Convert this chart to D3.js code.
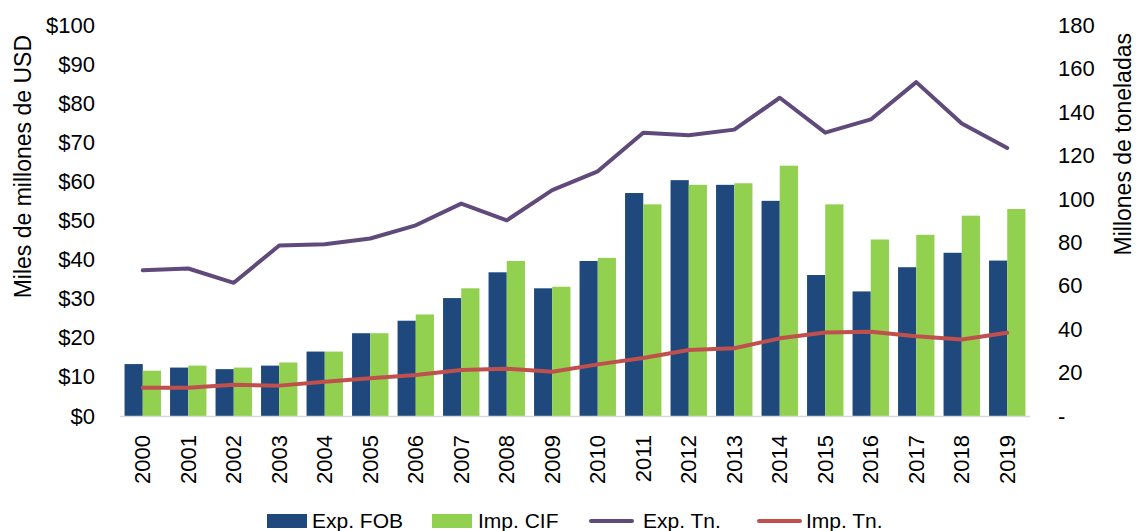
<!DOCTYPE html>
<html>
<head>
<meta charset="utf-8">
<script src="https://cdn.jsdelivr.net/npm/d3@7"></script>
<style>
  html, body { margin: 0; padding: 0; background: #fff; }
  svg { display: block; font-family: "Liberation Sans", Arial, sans-serif; }
</style>
</head>
<body>
<svg id="chart" width="1138" height="531"></svg>
<script>
const years = ["2000","2001","2002","2003","2004","2005","2006","2007","2008","2009",
               "2010","2011","2012","2013","2014","2015","2016","2017","2018","2019"];
const expFOB = [13.3, 12.4, 12.0, 12.9, 16.5, 21.2, 24.4, 30.2, 36.8, 32.7,
                39.7, 57.1, 60.4, 59.2, 55.1, 36.1, 31.9, 38.1, 41.8, 39.8];
const impCIF = [11.6, 12.9, 12.4, 13.7, 16.5, 21.2, 26.0, 32.7, 39.7, 33.1,
                40.5, 54.2, 59.2, 59.6, 64.1, 54.2, 45.2, 46.4, 51.3, 53.0];
const expTn  = [67.2, 68.0, 61.4, 78.6, 79.2, 81.8, 87.9, 97.9, 90.2, 104.1,
                112.8, 130.6, 129.4, 132.0, 146.7, 130.6, 136.7, 153.9, 134.8, 123.5];
const impTn  = [13.0, 13.0, 14.4, 14.0, 15.8, 17.4, 18.9, 21.2, 21.8, 20.4,
                23.8, 26.7, 30.4, 31.2, 35.8, 38.5, 38.8, 36.8, 35.3, 38.4];
const leftTicks  = [0, 10, 20, 30, 40, 50, 60, 70, 80, 90, 100];
const rightTicks = [0, 20, 40, 60, 80, 100, 120, 140, 160, 180];
const seriesNames = ["Exp. FOB", "Imp. CIF", "Exp. Tn.", "Imp. Tn."];
const leftTitle = "Miles de millones de USD";
const rightTitle = "Millones de toneladas";

const colors = { exp: "#1F497D", imp: "#92D050", expTn: "#604A7B", impTn: "#C0504D" };

const svg = d3.select("#chart");
const tickSize = 22, titleSize = 23, legendSize = 21;
const FONT = "Liberation Sans, Arial, sans-serif";

const x = d3.scaleBand().domain(years).range([120, 1030]).paddingInner(0.2).paddingOuter(0.1);
const x1 = d3.scaleBand().domain(["exp", "imp"]).range([0, x.bandwidth()]);
const yL = d3.scaleLinear().domain([0, 100]).range([416, 25.5]);
const yR = d3.scaleLinear().domain([0, 180]).range([416, 25.5]);

// bars
const data = years.map((y, i) => ({ year: y, exp: expFOB[i], imp: impCIF[i], expTn: expTn[i], impTn: impTn[i] }));
const groups = svg.append("g").selectAll("g").data(data).join("g")
  .attr("transform", d => `translate(${x(d.year)},0)`);
groups.selectAll("rect").data(d => ["exp", "imp"].map(k => ({ key: k, v: d[k] }))).join("rect")
  .attr("x", d => x1(d.key))
  .attr("width", x1.bandwidth())
  .attr("y", d => yL(d.v))
  .attr("height", d => yL(0) - yL(d.v))
  .attr("fill", d => colors[d.key]);

// baseline
svg.append("line").attr("x1", 120).attr("x2", 1030).attr("y1", yL(0) + 0.5).attr("y2", yL(0) + 0.5)
  .attr("stroke", "#D9D9D9").attr("stroke-width", 1.5);

// lines
const cx = d => x(d.year) + x.bandwidth() / 2;
svg.append("path").datum(data)
  .attr("d", d3.line().x(cx).y(d => yR(d.impTn)))
  .attr("fill", "none").attr("stroke", colors.impTn).attr("stroke-width", 4).attr("stroke-linejoin", "round").attr("stroke-linecap", "round");
svg.append("path").datum(data)
  .attr("d", d3.line().x(cx).y(d => yR(d.expTn)))
  .attr("fill", "none").attr("stroke", colors.expTn).attr("stroke-width", 4).attr("stroke-linejoin", "round").attr("stroke-linecap", "round");

// left axis
const axL = svg.append("g").attr("transform", "translate(99,0)")
  .call(d3.axisLeft(yL).tickValues(leftTicks).tickSize(0).tickPadding(4).tickFormat(d => "$" + d));
axL.select(".domain").remove();
axL.selectAll("text").attr("font-size", tickSize).attr("fill", "#000").attr("font-family", FONT);

// right axis
const axR = svg.append("g").attr("transform", "translate(1054,0)")
  .call(d3.axisRight(yR).tickValues(rightTicks).tickSize(0).tickPadding(4).tickFormat(d => d === 0 ? "-" : d));
axR.select(".domain").remove();
axR.selectAll("text").attr("font-size", tickSize).attr("fill", "#000").attr("font-family", FONT);

// x axis
const axX = svg.append("g").attr("transform", "translate(0,416)")
  .call(d3.axisBottom(x).tickSize(0).tickPadding(0));
axX.select(".domain").remove();
axX.selectAll("text")
  .attr("font-size", tickSize).attr("fill", "#000").attr("font-family", FONT)
  .attr("transform", "rotate(-90)")
  .attr("text-anchor", "end")
  .attr("x", -19).attr("y", 0).attr("dy", "0.35em");

// axis titles
svg.append("text").attr("transform", "translate(23,35) rotate(-90)")
  .attr("text-anchor", "end").attr("dy", "0.35em").attr("font-size", titleSize).text(leftTitle);
svg.append("text").attr("transform", "translate(1123,33) rotate(-90)")
  .attr("text-anchor", "end").attr("dy", "0.35em").attr("font-size", titleSize).text(rightTitle);

// legend
const leg = svg.append("g");
const legItems = [
  { name: seriesNames[0], type: "rect", color: colors.exp, sx: 267, tx: 312 },
  { name: seriesNames[1], type: "rect", color: colors.imp, sx: 432, tx: 478 },
  { name: seriesNames[2], type: "line", color: colors.expTn, sx: 589, tx: 643 },
  { name: seriesNames[3], type: "line", color: colors.impTn, sx: 757, tx: 806 }
];
const ly = 521;
legItems.forEach(it => {
  if (it.type === "rect") {
    leg.append("rect").attr("x", it.sx).attr("y", ly - 7).attr("width", 40).attr("height", 14).attr("fill", it.color);
  } else {
    leg.append("line").attr("x1", it.sx + 2).attr("x2", it.sx + 43).attr("y1", ly).attr("y2", ly)
      .attr("stroke", it.color).attr("stroke-width", 4).attr("stroke-linecap", "round");
  }
  leg.append("text").attr("x", it.tx).attr("y", ly).attr("dy", "0.35em").attr("font-size", legendSize).text(it.name);
});
</script>
</body>
</html>
